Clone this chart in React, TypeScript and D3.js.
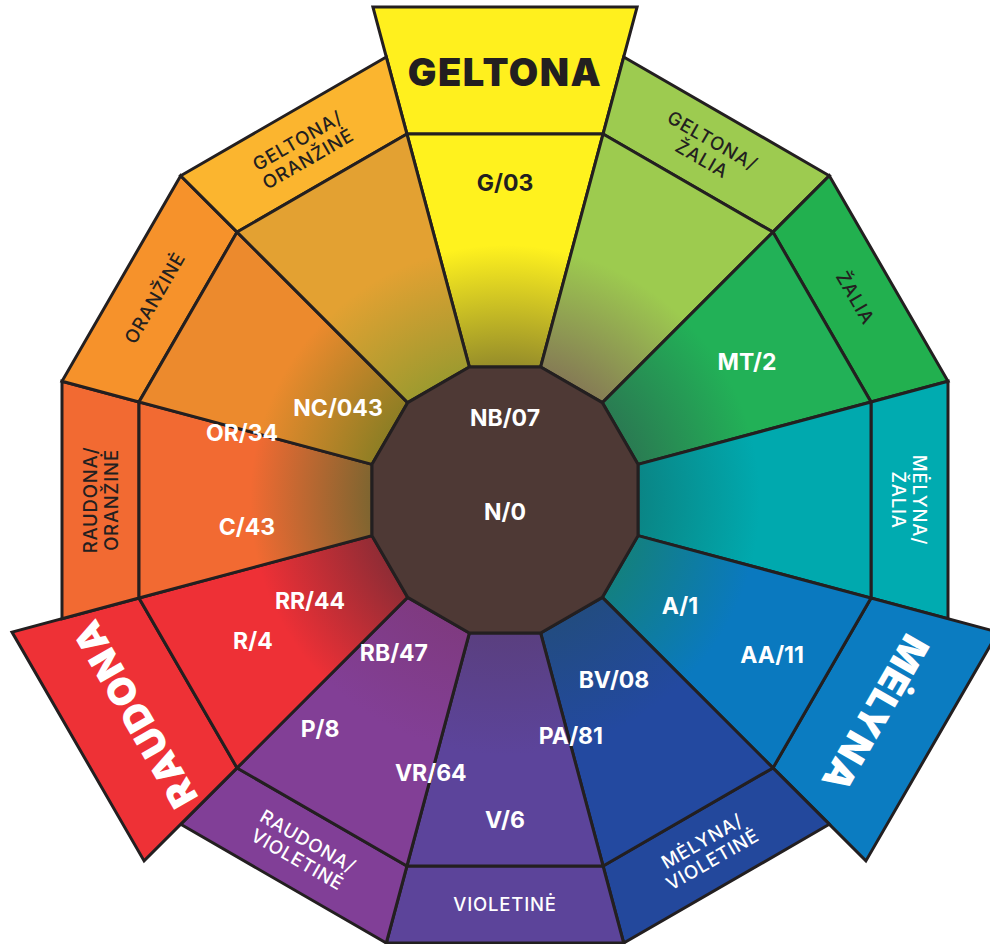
import React from "react";
import * as d3 from "d3";

const W = 990;
const H = 944;
const CX = 505;
const CY = 500;

// ring apothems: inner dodecagon, colour ring, name ring, primary tabs
const RINGS = [133, 366, 443, 493];

// 12 sectors, clockwise from the top (clock degrees)
const sectorAngles = d3.range(12).map((i) => i * 30);

const sectorNames = [
  ["GELTONA"],
  ["GELTONA/", "ŽALIA"],
  ["ŽALIA"],
  ["MĖLYNA/", "ŽALIA"],
  ["MĖLYNA"],
  ["MĖLYNA/", "VIOLETINĖ"],
  ["VIOLETINĖ"],
  ["RAUDONA/", "VIOLETINĖ"],
  ["RAUDONA"],
  ["RAUDONA/", "ORANŽINĖ"],
  ["ORANŽINĖ"],
  ["GELTONA/", "ORANŽINĖ"],
];
const isPrimary = [true, false, false, false, true, false, false, false, true, false, false, false];

const outerColors = [
  "#FFF01E", "#9DCB50", "#22B04F", "#00ABB0", "#0B7CC1", "#23489C",
  "#5C449A", "#813F97", "#EE3136", "#F26A32", "#F6922B", "#FBB52F",
];
const midColors = [
  "#FFF21E", "#9DCB4F", "#22B157", "#00A9AE", "#0A79BF", "#2349A0",
  "#5C449B", "#823F96", "#EE3036", "#F26A32", "#EC8A2D", "#E3A132",
];
const innerColors = [
  "#958C2A", "#857A55", "#2A7A52", "#0A8585", "#13807F", "#224C80",
  "#5A3F7F", "#7F3A80", "#8F2C35", "#7D6530", "#8C7E24", "#9C9A2F",
];
const nameDark = [true, true, true, false, false, false, false, false, false, true, true, true];

// colour codes: name, clock angle (deg), distance from centre
const codeNames = ["G/03", "MT/2", "A/1", "AA/11", "BV/08", "PA/81", "V/6", "VR/64", "RB/47", "P/8", "RR/44", "R/4", "C/43", "OR/34", "NC/043", "NB/07", "N/0"];
const codeAngles = [0, 60.3, 121.2, 120.1, 148.8, 164.4, 180, 195.2, 216, 218.9, 242.6, 240.8, 264, 284.3, 298.9, 0, 180];
const codeRadii = [317, 278.6, 204.6, 308.7, 210.4, 245, 320, 283, 189, 294.4, 219.6, 288.8, 259.4, 271.4, 190.7, 82, 12];
const codeDark = ["G/03"];

const STROKE = "#231F20";
const FONT = "Inter, Lato, 'Open Sans', sans-serif";
const rad = (deg: number) => (deg * Math.PI) / 180;
const vr = (apothem: number) => apothem / Math.cos(rad(15));

const pt = (deg: number, r: number): [number, number] => {
  const [x, y] = d3.pointRadial(rad(deg), r);
  return [CX + x, CY + y];
};

const quad = (a: number, r0: number, r1: number) => {
  const pts = [pt(a - 15, vr(r0)), pt(a + 15, vr(r0)), pt(a + 15, vr(r1)), pt(a - 15, vr(r1))];
  return d3.line()(pts) + "Z";
};

const labelRotation = (a: number) => (a >= 150 && a <= 210 ? a - 180 : a);

export default function App() {
  const inner = d3.line()(sectorAngles.map((a) => pt(a - 15, vr(RINGS[0])))) + "Z";
  const gradStart = RINGS[0] / RINGS[1];
  const gradEnd = 255 / RINGS[1];

  return (
    <svg
      width={W}
      height={H}
      viewBox={`0 0 ${W} ${H}`}
      style={{ position: "absolute", left: 0, top: 0, background: "#fff" }}
    >
      <defs>
        {sectorAngles.map((a, i) => (
          <radialGradient key={i} id={`mid${i}`} gradientUnits="userSpaceOnUse" cx={CX} cy={CY} r={RINGS[1]}>
            <stop offset={gradStart} stopColor={innerColors[i]} />
            <stop offset={gradEnd} stopColor={midColors[i]} />
            <stop offset={1} stopColor={midColors[i]} />
          </radialGradient>
        ))}
      </defs>

      {/* outer name ring and primary tabs */}
      {sectorAngles.map((a, i) => (
        <path
          key={`o${i}`}
          d={quad(a, RINGS[1], isPrimary[i] ? RINGS[3] : RINGS[2])}
          fill={outerColors[i]}
          stroke={STROKE}
          strokeWidth={3}
          strokeLinejoin="miter"
        />
      ))}

      {/* colour ring */}
      {sectorAngles.map((a, i) => (
        <path
          key={`m${i}`}
          d={quad(a, RINGS[0], RINGS[1])}
          fill={`url(#mid${i})`}
          stroke={STROKE}
          strokeWidth={3}
          strokeLinejoin="miter"
        />
      ))}

      {/* neutral centre */}
      <path d={inner} fill="#4E3935" stroke={STROKE} strokeWidth={3} />

      {/* sector names */}
      {sectorAngles.map((a, i) => {
        const r = isPrimary[i] ? (RINGS[1] + RINGS[3]) / 2 - 2 : (RINGS[1] + RINGS[2]) / 2;
        const [x, y] = pt(a, r);
        const lines = sectorNames[i];
        const big = isPrimary[i];
        const fs = big ? 38 : 18.5;
        const lh = 21;
        return (
          <g key={`n${i}`} transform={`translate(${x},${y}) rotate(${labelRotation(a)})`}>
            {lines.map((t, j) => (
              <text
                key={j}
                x={0}
                y={(j - (lines.length - 1) / 2) * lh}
                dy="0.36em"
                textAnchor="middle"
                fontFamily={FONT}
                fontSize={fs}
                fontWeight={big ? 900 : 500}
                letterSpacing={big ? 1.5 : 0.8}
                fill={big ? (i === 0 ? STROKE : "#fff") : nameDark[i] ? STROKE : "#fff"}
              >
                {t}
              </text>
            ))}
          </g>
        );
      })}

      {/* colour codes */}
      {codeNames.map((c, i) => {
        const [x, y] = pt(codeAngles[i], codeRadii[i]);
        return (
          <text
            key={c}
            x={x}
            y={y}
            dy="0.36em"
            textAnchor="middle"
            fontFamily={FONT}
            fontSize={23}
            fontWeight={700}
            fill={codeDark.includes(c) ? STROKE : "#fff"}
          >
            {c}
          </text>
        );
      })}
    </svg>
  );
}
